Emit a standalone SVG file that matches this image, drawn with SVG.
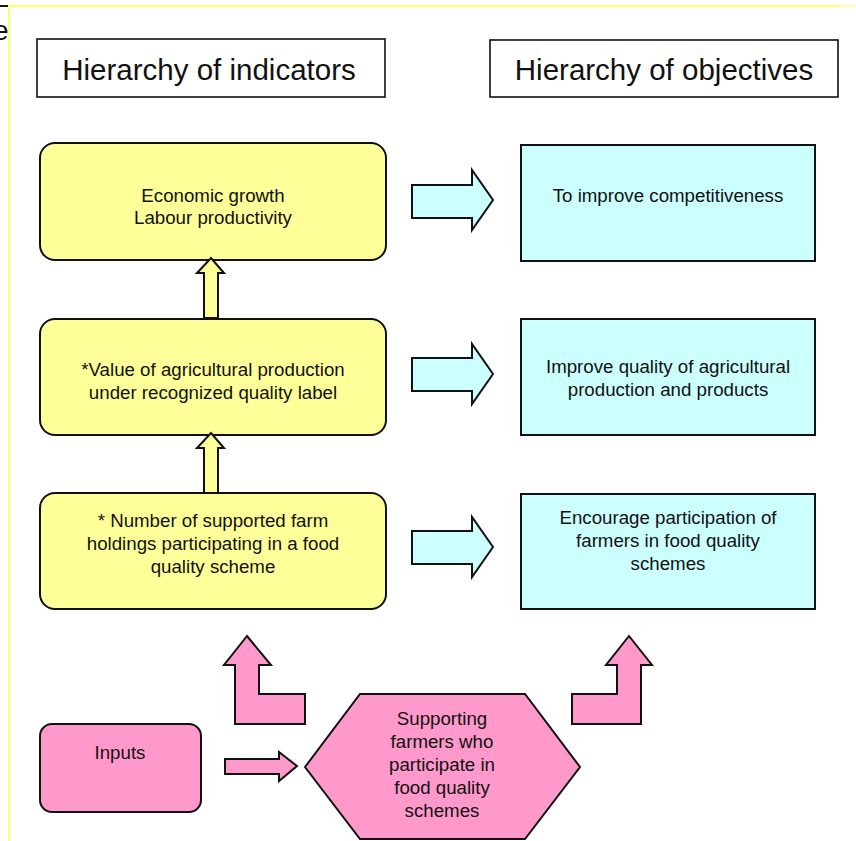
<svg xmlns="http://www.w3.org/2000/svg" width="856" height="841" viewBox="0 0 856 841">
<style>
text{font-family:"Liberation Sans",Arial,sans-serif;fill:#111;text-anchor:middle}
.t{font-size:18.7px}
.h{font-size:29.5px}
.hdr{fill:#fff;stroke:#111;stroke-width:1.6}
.yel{fill:#ffff99;stroke:#111;stroke-width:2}
.cya{fill:#ccffff;stroke:#111;stroke-width:2}
.pnk{fill:#ff99cc;stroke:#111;stroke-width:2}
</style>
<rect width="856" height="841" fill="#fff"/>
<g id="frame">
<text x="-7" y="40" style="font-size:28px;text-anchor:start">e</text>
<line x1="9" y1="6" x2="840" y2="6" stroke="#ffff66" stroke-width="2"/>
<line x1="840" y1="6" x2="856" y2="6" stroke="#ffffb0" stroke-width="2"/>
<line x1="9" y1="6" x2="9" y2="841" stroke="#ffff66" stroke-width="2"/>
<line x1="0" y1="6" x2="8" y2="6" stroke="#111" stroke-width="2"/>
</g>
<g id="hdr-indicators">
<rect class="hdr" x="37" y="39" width="348" height="58"/>
<text class="h" x="209" y="80">Hierarchy of indicators</text>
</g>
<g id="hdr-objectives">
<rect class="hdr" x="490" y="40" width="348" height="57"/>
<text class="h" x="664" y="80">Hierarchy of objectives</text>
</g>
<g id="ind1">
<rect class="yel" x="40" y="143" width="346" height="117" rx="15"/>
<text class="t" x="213" y="202">Economic growth</text>
<text class="t" x="213" y="224">Labour productivity</text>
</g>
<g id="ind2">
<rect class="yel" x="40" y="319" width="346" height="116" rx="15"/>
<text class="t" x="213" y="376">*Value of agricultural production</text>
<text class="t" x="213" y="399">under recognized quality label</text>
</g>
<g id="ind3">
<rect class="yel" x="40" y="493" width="346" height="116" rx="15"/>
<text class="t" x="213" y="527">* Number of supported farm</text>
<text class="t" x="213" y="550">holdings participating in a food</text>
<text class="t" x="213" y="573">quality scheme</text>
</g>
<g id="obj1">
<rect class="cya" x="521" y="145" width="294" height="116"/>
<text class="t" x="668" y="202">To improve competitiveness</text>
</g>
<g id="obj2">
<rect class="cya" x="521" y="319" width="294" height="116"/>
<text class="t" x="668" y="373">Improve quality of agricultural</text>
<text class="t" x="668" y="396">production and products</text>
</g>
<g id="obj3">
<rect class="cya" x="521" y="494" width="294" height="115"/>
<text class="t" x="668" y="524">Encourage participation of</text>
<text class="t" x="668" y="547">farmers in food quality</text>
<text class="t" x="668" y="570">schemes</text>
</g>
<g id="inputs">
<rect class="pnk" x="40" y="724" width="161" height="88" rx="12"/>
<text class="t" x="120" y="759">Inputs</text>
</g>
<g id="activity">
<polygon class="pnk" points="305,767 360,694 525,694 580,767 525,839 360,839"/>
<text class="t" x="442" y="725">Supporting</text>
<text class="t" x="442" y="748">farmers who</text>
<text class="t" x="442" y="771">participate in</text>
<text class="t" x="442" y="794">food quality</text>
<text class="t" x="442" y="817">schemes</text>
</g>
<g id="connectors">
<polygon class="cya" points="412,185 472,185 472,170 493,200 472,230 472,218 412,218"/>
<polygon class="cya" points="412,358 472,358 472,344 493,374 472,404 472,391 412,391"/>
<polygon class="cya" points="412,531 472,531 472,517 493,547 472,577 472,564 412,564"/>
<polygon class="yel" points="211,258 224,273 218,273 218,318 204,318 204,273 197,273"/>
<polygon class="yel" points="211,433 224,448 218,448 218,493 204,493 204,448 197,448"/>
<polygon class="pnk" points="247,636 271,665 259,665 259,694 305,694 305,724 235,724 235,665 224,665"/>
<polygon class="pnk" points="629,636 652,665 641,665 641,724 572,724 572,694 617,694 617,665 606,665"/>
<polygon class="pnk" points="225,759 279,759 279,752 297,766 279,781 279,774 225,774"/>
</g>
</svg>
